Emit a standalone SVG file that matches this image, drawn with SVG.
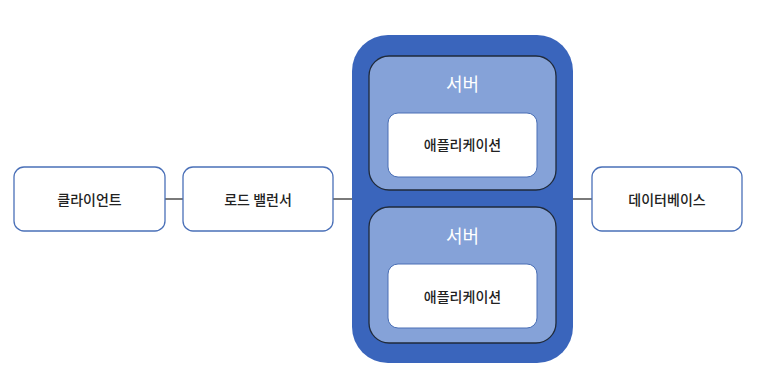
<svg xmlns="http://www.w3.org/2000/svg" width="763" height="372" viewBox="0 0 763 372">
<style>
.box{fill:#ffffff;stroke:#4a70b8;stroke-width:1.3}
.server{fill:#85a2d8;stroke:#1f2a3a;stroke-width:1.3}
.app{fill:#ffffff;stroke:#4a6fb5;stroke-width:1}
.t{font-family:"Noto Sans CJK KR","Noto Sans",sans-serif;font-size:14px;font-weight:500;fill:#222;text-anchor:middle;dominant-baseline:central}
.st{font-family:"Noto Sans CJK KR","Noto Sans",sans-serif;font-size:18px;font-weight:400;fill:#ffffff;text-anchor:middle;dominant-baseline:central}
.c{stroke:#222;stroke-width:1.2;fill:none}
</style>
<rect width="763" height="372" fill="#ffffff"/>
<g id="connectors">
<line class="c" x1="165" y1="199" x2="183" y2="199"/>
<line class="c" x1="333" y1="199" x2="352" y2="199"/>
<line class="c" x1="573" y1="199" x2="592" y2="199"/>
</g>
<g id="client"><rect class="box" x="14" y="167" width="151" height="64" rx="10"/><text class="t" x="89.5" y="199">클라이언트</text></g>
<g id="loadbalancer"><rect class="box" x="183" y="167" width="150" height="64" rx="10"/><text class="t" x="258" y="199">로드 밸런서</text></g>
<g id="cluster"><rect x="352" y="35" width="221" height="328" rx="36" fill="#3a65bc"/></g>
<g id="server1"><rect class="server" x="369" y="56" width="187" height="134" rx="20"/><text class="st" x="462.5" y="83">서버</text></g>
<g id="app1"><rect class="app" x="388" y="113" width="149" height="64" rx="10"/><text class="t" x="462.5" y="144">애플리케이션</text></g>
<g id="server2"><rect class="server" x="369" y="207" width="187" height="136" rx="20"/><text class="st" x="462.5" y="235">서버</text></g>
<g id="app2"><rect class="app" x="388" y="264" width="149" height="64" rx="10"/><text class="t" x="462.5" y="296">애플리케이션</text></g>
<g id="database"><rect class="box" x="592" y="167" width="150" height="64" rx="10"/><text class="t" x="667" y="199">데이터베이스</text></g>
</svg>
